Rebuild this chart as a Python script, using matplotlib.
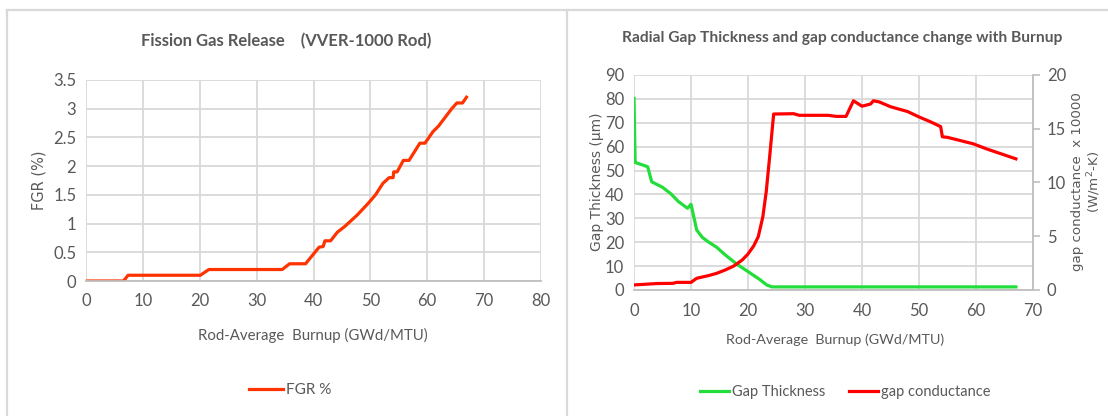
import matplotlib
matplotlib.use("Agg")
import matplotlib.pyplot as plt
from matplotlib.lines import Line2D
from matplotlib.ticker import MultipleLocator

# ---- data ----
fgr_burnup = [0, 6.6, 7.4, 20.1, 21.6, 34.5, 35.8, 38.6, 40.0, 41.0, 41.7, 42.0, 43.0,
              44.2, 45.5, 47.7, 49.6, 50.9, 52.2, 53.3, 54.0, 54.1, 54.7, 55.8, 56.8,
              58.7, 59.6, 61.0, 62.0, 64.3, 65.2, 66.2, 66.9]
fgr_pct = [0, 0, 0.1, 0.1, 0.2, 0.2, 0.3, 0.3, 0.47, 0.59, 0.6, 0.7, 0.7,
           0.85, 0.95, 1.15, 1.35, 1.5, 1.7, 1.8, 1.8, 1.9, 1.9, 2.1, 2.1,
           2.4, 2.4, 2.6, 2.7, 3.0, 3.1, 3.1, 3.2]

gap_burnup = [0, 0.2, 2.4, 3.1, 5.0, 6.5, 7.8, 9.4, 10.0, 11.0, 12.0, 13.0, 14.5,
              16.0, 18.0, 20.0, 22.0, 23.3, 24.2, 67.0]
gap_um = [80.2, 53.4, 51.6, 45.3, 43.0, 40.2, 37.0, 34.2, 35.9, 25.1, 22.0, 20.2, 17.9,
          14.7, 10.9, 7.7, 4.5, 2.1, 1.3, 1.3]

cond_burnup = [0, 4.0, 6.8, 7.5, 10.0, 11.0, 13.0, 14.5, 16.0, 17.5, 19.0, 20.0, 21.0,
               21.8, 22.6, 23.2, 23.8, 24.5, 28.0, 29.0, 34.0, 35.5, 37.2, 38.5, 40.0,
               41.5, 42.0, 43.0, 45.0, 48.0, 50.0, 52.0, 53.8, 54.1, 55.0, 59.5, 62.0, 67.0]
cond_val = [0.47, 0.6, 0.62, 0.71, 0.71, 1.09, 1.33, 1.55, 1.86, 2.23, 2.8, 3.35, 4.1,
            4.96, 6.8, 9.15, 12.4, 16.37, 16.4, 16.25, 16.25, 16.15, 16.15, 17.6, 17.1,
            17.3, 17.6, 17.5, 17.05, 16.6, 16.1, 15.65, 15.2, 14.25, 14.2, 13.6, 13.1, 12.2]

fgr_ticks = [0, 0.5, 1, 1.5, 2, 2.5, 3, 3.5]
fgr_tick_labels = ["0", "0.5", "1", "1.5", "2", "2.5", "3", "3.5"]

W, H = 1108, 416
TXT = "#595959"
GRID = "#d9d9d9"
CAL = ["Lato", "DejaVu Sans"]      # stands in for Calibri
WIDE = ["DejaVu Sans"]

fig = plt.figure(figsize=(W / 100, H / 100), dpi=100)


def box(l, r, t, b):
    return [l / W, 1 - b / H, (r - l) / W, (b - t) / H]


def style(ax):
    ax.grid(True, color=GRID, linewidth=1.3)
    ax.set_axisbelow(True)
    for s in ax.spines.values():
        s.set_visible(False)
    ax.spines["bottom"].set_visible(True)
    ax.spines["bottom"].set_color("#bfbfbf")
    ax.spines["bottom"].set_linewidth(1.3)
    ax.tick_params(length=0, labelsize=12, labelcolor=TXT)
    ax.tick_params(axis="x", pad=9)
    ax.tick_params(axis="y", pad=7)
    for lab in ax.get_xticklabels() + ax.get_yticklabels():
        lab.set_family(CAL)


# ---- left chart ----
ax1 = fig.add_axes(box(86, 541, 80, 281))
ax1.plot(fgr_burnup, fgr_pct, color="#ff3300", linewidth=2.3, label="FGR %")
ax1.set_xlim(0, 80)
ax1.set_ylim(0, 3.5)
ax1.xaxis.set_major_locator(MultipleLocator(10))
ax1.set_yticks(fgr_ticks, fgr_tick_labels)
style(ax1)
fig.text(313 / W, 1 - 335 / H, "Rod-Average  Burnup (GWd/MTU)", ha="center", va="center",
         fontsize=10.8, color=TXT, family=CAL)
fig.text(39 / W, 1 - 180 / H, "FGR (%)", ha="center", va="center", rotation=90,
         fontsize=10.5, color=TXT, family=WIDE)
fig.text(286 / W, 1 - 41 / H, "Fission Gas Release    (VVER-1000 Rod)", ha="center", va="center",
         fontsize=12, fontweight="bold", color=TXT, family=CAL)
fig.legend(handles=ax1.get_lines(), loc="center", bbox_to_anchor=(290 / W, 1 - 390 / H),
           frameon=False, prop={"family": CAL, "size": 11}, labelcolor=TXT,
           handlelength=2.2, handletextpad=0.2)

# ---- right chart ----
ax2 = fig.add_axes(box(634, 1033, 75, 290))
l1, = ax2.plot(gap_burnup, gap_um, color="#22dd3a", linewidth=2.3, label="Gap Thickness")
ax2.set_xlim(0, 70)
ax2.set_ylim(0, 90)
ax2.xaxis.set_major_locator(MultipleLocator(10))
ax2.yaxis.set_major_locator(MultipleLocator(10))
style(ax2)
fig.text(835 / W, 1 - 340 / H, "Rod-Average  Burnup (GWd/MTU)", ha="center", va="center",
         fontsize=10.3, color=TXT, family=CAL)
fig.text(597 / W, 1 - 182 / H, "Gap Thickness (µm)", ha="center", va="center", rotation=90,
         fontsize=10, color=TXT, family=WIDE)

ax3 = ax2.twinx()
l2, = ax3.plot(cond_burnup, cond_val, color="#ff0000", linewidth=2.3, label="gap conductance")
ax3.set_ylim(0, 20)
ax3.yaxis.set_major_locator(MultipleLocator(5))
for s in ax3.spines.values():
    s.set_visible(False)
ax3.spines["right"].set_visible(True)
ax3.spines["right"].set_color("#bfbfbf")
ax3.spines["right"].set_linewidth(1.3)
ax3.tick_params(axis="y", length=5, width=1.2, color="#bfbfbf", labelsize=12, labelcolor=TXT, pad=5)
for lab in ax3.get_yticklabels():
    lab.set_family(CAL)
fig.text(1077 / W, 1 - 182 / H, "gap conductance  x 10000", ha="center", va="center", rotation=90,
         fontsize=9.6, color=TXT, family=WIDE)
fig.text(1094 / W, 1 - 182 / H, "(W/m$^2$-K)", ha="center", va="center", rotation=90,
         fontsize=9.6, color=TXT, family=WIDE)

fig.text(842 / W, 1 - 38 / H, "Radial Gap Thickness and gap conductance change with Burnup",
         ha="center", va="center", fontsize=11.2, fontweight="bold", color=TXT, family=CAL)
fig.legend(handles=[l1, l2], loc="center", bbox_to_anchor=(845 / W, 1 - 392 / H),
           frameon=False, prop={"family": CAL, "size": 10.5}, labelcolor=TXT, ncol=2,
           handlelength=2.0, handletextpad=0.2, columnspacing=1.6)

# ---- chart borders ----
for xs, ys in [([7, W], [10, 10]), ([7, 7], [10, H]), ([567, 567], [10, H])]:
    fig.add_artist(Line2D([x / W for x in xs], [1 - y / H for y in ys], color=GRID, linewidth=1.6))

fig.savefig("out.png", dpi=100)
